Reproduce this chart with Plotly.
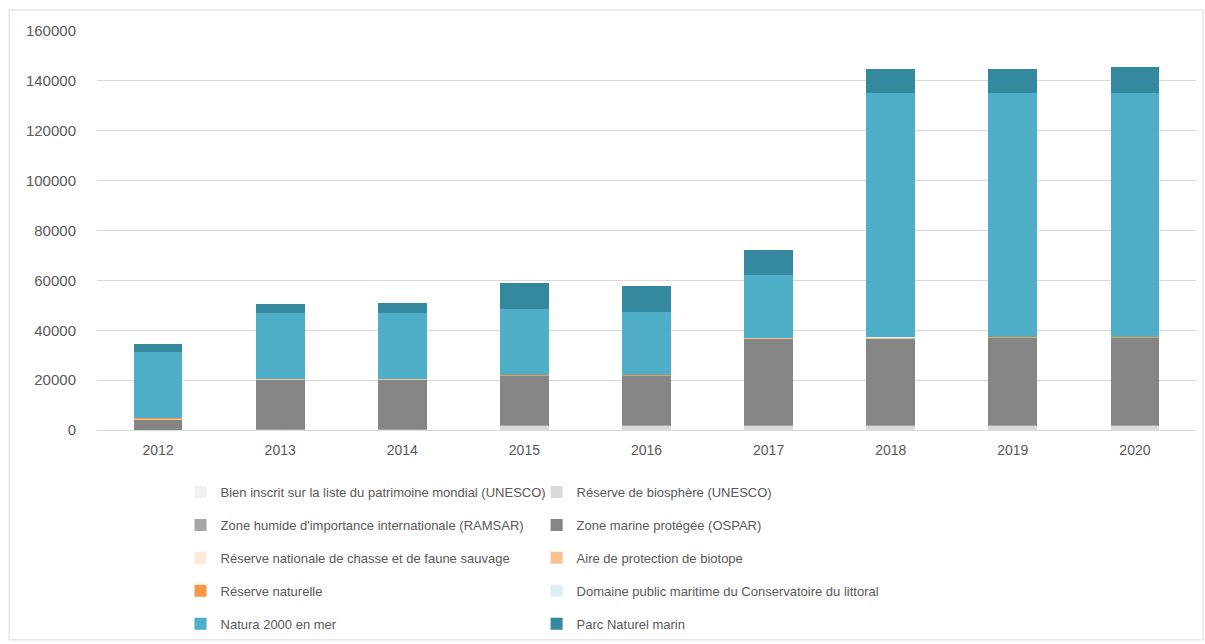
import plotly.graph_objects as go

years = ["2012", "2013", "2014", "2015", "2016", "2017", "2018", "2019", "2020"]

bien_unesco = [0, 0, 0, 100, 100, 100, 100, 100, 100]
biosphere = [0, 300, 300, 1800, 1800, 1800, 1800, 1800, 1800]
ramsar = [100, 100, 100, 300, 300, 300, 300, 300, 300]
ospar = [4000, 20000, 20000, 19800, 19800, 34300, 34600, 35000, 35000]
chasse = [0, 0, 0, 0, 0, 0, 0, 0, 0]
biotope = [700, 50, 50, 50, 50, 500, 100, 50, 50]
reserve_nat = [50, 50, 50, 50, 50, 50, 50, 50, 50]
domaine = [0, 0, 0, 0, 0, 0, 400, 100, 100]
natura = [26250, 26460, 26400, 26300, 25200, 24950, 97650, 97600, 97600]
parc = [3300, 3500, 4200, 10500, 10400, 10000, 9800, 9800, 10400]

series = [
    ("Bien inscrit sur la liste du patrimoine mondial (UNESCO)", bien_unesco, "#f2f2f2", "legend"),
    ("Réserve de biosphère (UNESCO)", biosphere, "#d9d9d9", "legend2"),
    ("Zone humide d'importance internationale (RAMSAR)", ramsar, "#a6a6a6", "legend"),
    ("Zone marine protégée (OSPAR)", ospar, "#858585", "legend2"),
    ("Réserve nationale de chasse et de faune sauvage", chasse, "#fde9d9", "legend"),
    ("Aire de protection de biotope", biotope, "#fac090", "legend2"),
    ("Réserve naturelle", reserve_nat, "#f79646", "legend"),
    ("Domaine public maritime du Conservatoire du littoral", domaine, "#dbeef4", "legend2"),
    ("Natura 2000 en mer", natura, "#4fafc9", "legend"),
    ("Parc Naturel marin", parc, "#35899f", "legend2"),
]

fig = go.Figure()
for i, (name, vals, col, leg) in enumerate(series):
    fig.add_trace(go.Bar(
        x=years, y=vals, name=name, marker=dict(color=col, line=dict(width=0)),
        legend=leg, legendgroup=f"g{i}", legendrank=i,
    ))

legend_font = dict(family="Liberation Sans, sans-serif", size=13, color="#595959")
leg_common = dict(
    orientation="v", xanchor="left", yanchor="top", font=legend_font,
    bgcolor="rgba(0,0,0,0)", tracegroupgap=13, itemwidth=30, traceorder="grouped",
)

fig.update_layout(
    width=1205, height=644,
    margin=dict(l=97, r=9, t=31, b=214, autoexpand=False),
    paper_bgcolor="white", plot_bgcolor="white",
    barmode="stack", bargap=0.6,
    font=dict(family="Liberation Sans, sans-serif", size=14, color="#595959"),
    xaxis=dict(showgrid=False, showline=False, ticks="", ticklabelstandoff=10,
               tickfont=dict(size=14, color="#595959")),
    yaxis=dict(range=[0, 160000], dtick=20000, showgrid=True, gridcolor="#d9d9d9", gridwidth=1,
               zeroline=True, zerolinecolor="#d9d9d9", zerolinewidth=1, tickformat="d",
               ticks="", ticklabelstandoff=20, tickfont=dict(size=15, color="#595959")),
    legend=dict(x=0.076, y=-0.118, **leg_common),
    legend2=dict(x=0.400, y=-0.118, **leg_common),
    shapes=[dict(type="rect", xref="paper", yref="paper",
                 x0=-0.080, x1=1.0064, y0=-0.526, y1=1.0526,
                 line=dict(color="#d9d9d9", width=1), fillcolor="rgba(0,0,0,0)", layer="below")],
)

fig.write_html("out.html", config={"displayModeBar": False},
               post_script="document.body.style.margin='0px';document.body.style.overflow='hidden';")
